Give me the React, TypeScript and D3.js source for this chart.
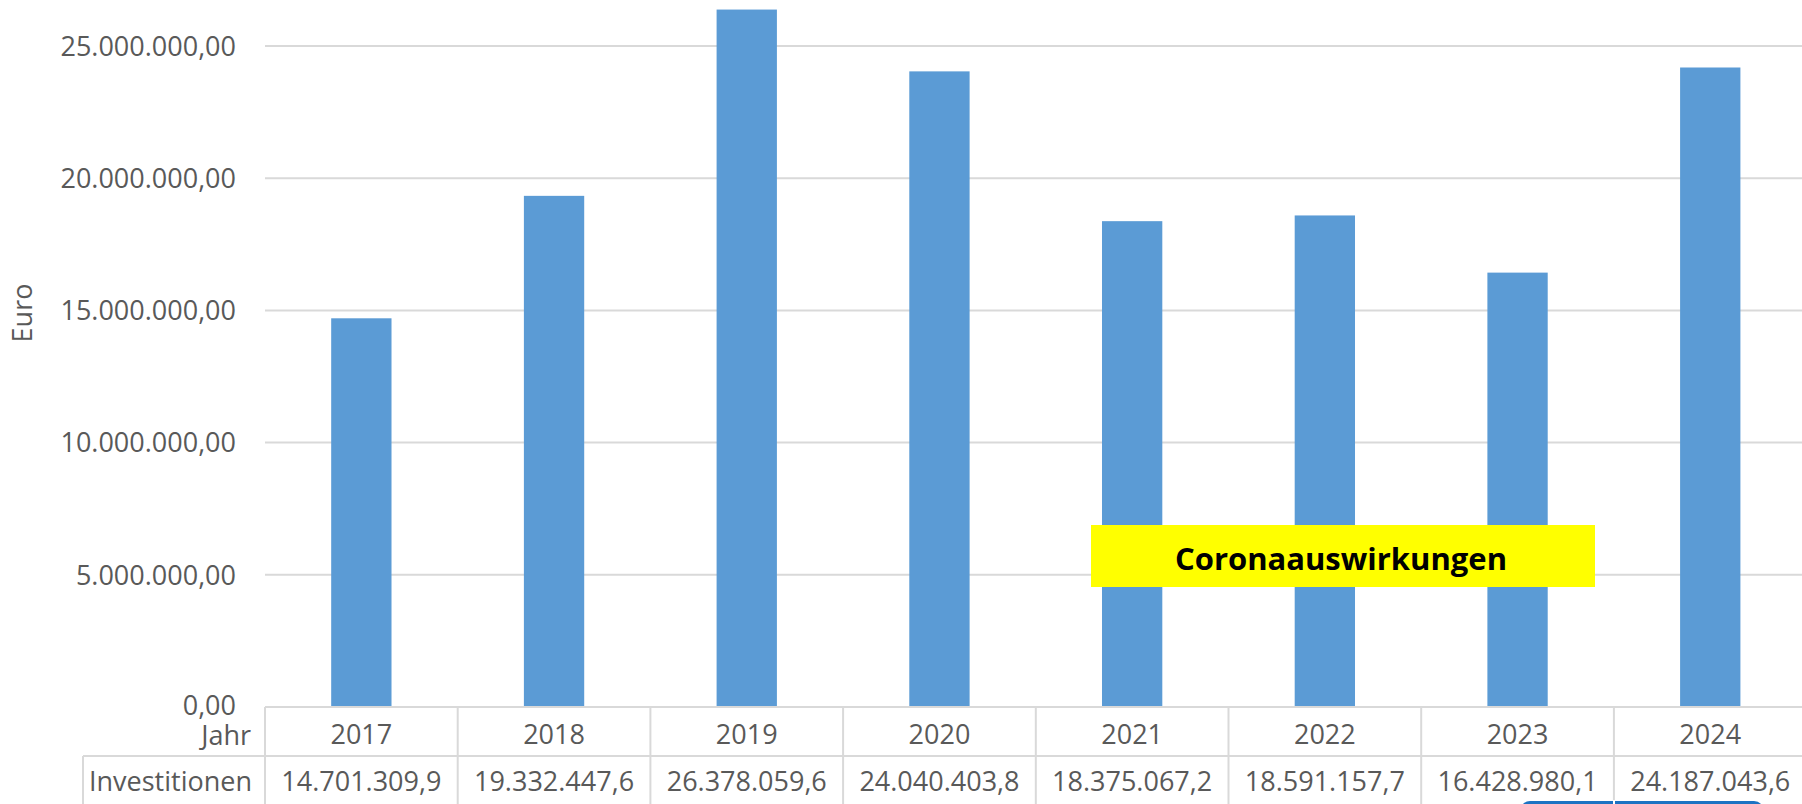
import React from 'react';
import * as d3 from 'd3';

const years = ['2017', '2018', '2019', '2020', '2021', '2022', '2023', '2024'];
const investments = [
  14701309.9, 19332447.6, 26378059.6, 24040403.8, 18375067.2, 18591157.7,
  16428980.1, 24187043.6,
];
const valueLabels = [
  '14.701.309,9', '19.332.447,6', '26.378.059,6', '24.040.403,8',
  '18.375.067,2', '18.591.157,7', '16.428.980,1', '24.187.043,6',
];
const yTicks = [0, 5000000, 10000000, 15000000, 20000000, 25000000];
const rowLabels = ['Jahr', 'Investitionen'];
const note = 'Coronaauswirkungen';

const W = 1802;
const H = 804;
const FONT = "'Open Sans', 'Noto Sans', sans-serif";
const TEXT = '#595959';
const GRID = '#d9d9d9';
const BAR = '#5b9bd5';

const deLocale = d3.formatLocale({
  decimal: ',',
  thousands: '.',
  grouping: [3],
  currency: ['', ' €'],
});
const fmt = deLocale.format(',.2f');

export default function App() {
  const plotLeft = 265;
  const colW = 192.7;
  const x = d3
    .scaleBand<string>()
    .domain(years)
    .range([plotLeft, plotLeft + colW * years.length]);
  const y = d3.scaleLinear().domain([0, 25000000]).range([707, 46]);
  const barW = x.bandwidth() * 0.313;

  const row1Top = y(0);
  const row2Top = 756;
  const tableBottom = H + 2;

  return (
    <svg
      width={W}
      height={H}
      style={{ position: 'fixed', left: 0, top: 0, background: '#fff' }}
      fontFamily={FONT}
    >
      {/* gridlines */}
      {yTicks.slice(1).map(t => (
        <line
          key={t}
          x1={plotLeft}
          x2={W}
          y1={y(t)}
          y2={y(t)}
          stroke={GRID}
          strokeWidth={2}
        />
      ))}

      {/* y tick labels */}
      {yTicks.map(t => (
        <text
          key={t}
          x={236}
          y={y(t)}
          dy={t === 0 ? '0.3em' : '0.36em'}
          textAnchor="end"
          fontSize={27}
          fill={TEXT}
        >
          {fmt(t)}
        </text>
      ))}

      <text
        transform={`translate(32, 313) rotate(-90)`}
        textAnchor="middle"
        fontSize={27}
        fill={TEXT}
      >
        Euro
      </text>

      {/* bars */}
      {years.map((yr, i) => (
        <rect
          key={yr}
          x={(x(yr) as number) + (x.bandwidth() - barW) / 2}
          y={y(investments[i])}
          width={barW}
          height={y(0) - y(investments[i])}
          fill={BAR}
        />
      ))}

      {/* data table */}
      <line x1={plotLeft} x2={W} y1={row1Top} y2={row1Top} stroke={GRID} strokeWidth={2} />
      <line x1={83} x2={W} y1={row2Top} y2={row2Top} stroke={GRID} strokeWidth={2} />
      <line x1={83} x2={83} y1={row2Top} y2={tableBottom} stroke={GRID} strokeWidth={2} />
      {years.map(yr => (
        <line
          key={yr}
          x1={x(yr)}
          x2={x(yr)}
          y1={row1Top}
          y2={tableBottom}
          stroke={GRID}
          strokeWidth={2}
        />
      ))}
      <text x={251} y={745} textAnchor="end" fontSize={27} fill={TEXT}>
        {rowLabels[0]}
      </text>
      <text x={252} y={791} textAnchor="end" fontSize={27} fill={TEXT}>
        {rowLabels[1]}
      </text>
      {years.map((yr, i) => (
        <g key={yr}>
          <text
            x={(x(yr) as number) + x.bandwidth() / 2}
            y={744}
            textAnchor="middle"
            fontSize={27}
            fill={TEXT}
          >
            {yr}
          </text>
          <text
            x={(x(yr) as number) + x.bandwidth() / 2}
            y={791}
            textAnchor="middle"
            fontSize={27}
            fill={TEXT}
          >
            {valueLabels[i]}
          </text>
        </g>
      ))}

      {/* annotation */}
      <rect x={1091} y={525} width={504} height={62} fill="#ffff00" />
      <text
        x={1341}
        y={570}
        textAnchor="middle"
        fontSize={31}
        fontWeight="bold"
        fill="#000"
      >
        {note}
      </text>

      {/* partially visible button at bottom edge */}
      <rect x={1520} y={801} width={244} height={20} rx={10} fill="#1c73c3" />
      <line x1={1614} x2={1614} y1={800} y2={H} stroke="#fff" strokeWidth={2} />
    </svg>
  );
}
